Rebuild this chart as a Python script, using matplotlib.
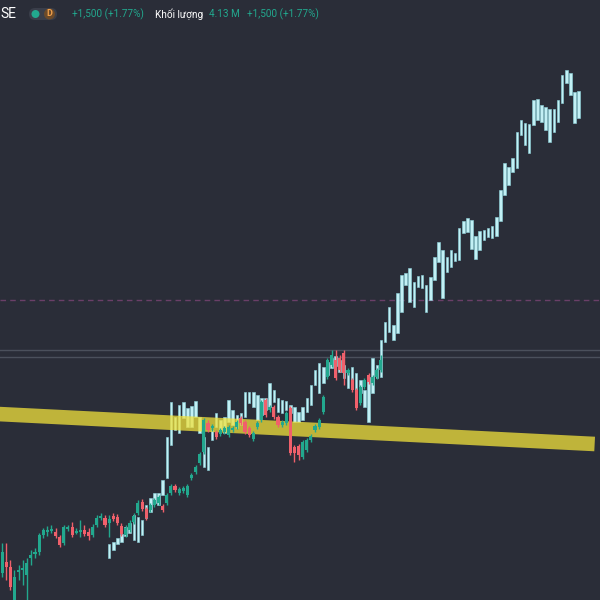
import numpy as np
import matplotlib.pyplot as plt
from matplotlib.patches import FancyBboxPatch, Circle

plt.rcParams['font.family'] = ['Roboto', 'DejaVu Sans']

# main candles (price units)
main_open = [27, 38, 33, 0, 28, 30, 25, 42, 46, 48, 65, 68, 69, 68, 63, 57, 71, 73, 67, 68,
             70, 68, 65, 75, 82, 82, 77, 84, 83, 74, 65, 70, 78, 87, 98, 91, 90, 95, 97, 94,
             97, 107, 114, 107, 109, 105, 122, 128, 137, 148, 177, 172, 168, 166, 168, 165, 170, 173, 182, 178,
             172, 161, 173, 180, 200, 190, 193, 183, 175, 177, 192, 153, 154, 143, 150, 160, 170, 173, 188, 223,
             235, 240, 242, 247, 227, 220, 210, 197, 213, 225, 217, 223, 230]
main_close = [48, 33, 13, 23, 30, 32, 37, 45, 48, 65, 70, 70, 71, 64, 55, 73, 73, 65, 69, 70,
              66, 64, 73, 82, 84, 75, 81, 81, 77, 66, 72, 77, 84, 97, 91, 82, 95, 100, 103, 90,
              105, 114, 110, 111, 112, 114, 125, 133, 146, 180, 170, 174, 163, 170, 172, 173, 172, 178, 177, 168,
              165, 167, 177, 198, 185, 193, 183, 175, 178, 187, 147, 147, 145, 158, 160, 164, 174, 180, 203, 240,
              245, 222, 230, 227, 230, 210, 192, 213, 220, 218, 223, 230, 240]
main_high = [57, 57, 40, 30, 35, 40, 42, 50, 52, 67, 72, 74, 75, 72, 65, 75, 75, 78, 72, 80,
             75, 72, 76, 85, 87, 85, 85, 87, 86, 77, 75, 80, 87, 100, 101, 93, 97, 102, 105, 96,
             107, 116, 116, 113, 114, 116, 127, 135, 148, 182, 180, 176, 170, 172, 174, 175, 174, 180, 184, 180,
             174, 169, 179, 200, 202, 195, 195, 185, 180, 189, 194, 155, 156, 160, 162, 166, 176, 182, 205, 242,
             250, 250, 245, 250, 232, 222, 212, 215, 222, 227, 225, 232, 245]
main_low = [23, 20, 10, -10, 20, 15, 0, 35, 42, 45, 62, 64, 67, 62, 53, 55, 69, 63, 66, 63,
            64, 60, 63, 73, 80, 73, 63, 79, 75, 64, 63, 68, 76, 85, 89, 80, 88, 93, 95, 88,
            95, 105, 108, 105, 107, 103, 120, 126, 135, 146, 168, 169, 161, 164, 166, 163, 168, 171, 175, 166,
            163, 159, 171, 178, 183, 188, 181, 173, 173, 175, 145, 138, 140, 141, 148, 158, 168, 171, 186, 221,
            233, 220, 228, 215, 225, 208, 190, 195, 211, 216, 215, 221, 228]

# projected bars pattern
proj_start = 26
proj_high = [56, 58, 62, 66, 73, 77, 85, 83, 80, 95, 102, 107, 107, 120, 163, 198, 183, 195, 198, 192,
             194, 199, 183, 163, 153, 170, 187, 180, 183, 200, 190, 185, 187, 208, 208, 208, 205, 202, 202, 217,
             210, 202, 200, 199, 195, 193, 188, 193, 202, 215, 230, 237, 233, 238, 242, 244, 240, 235, 228, 233,
             227, 220, 210, 223, 242, 235, 260, 278, 293, 275, 307, 325, 327, 332, 318, 324, 325, 315, 323, 343,
             358, 350, 343, 350, 347, 372, 379, 382, 380, 364, 369, 370, 372, 374, 383, 410, 437, 433, 442, 468,
             480, 477, 476, 500, 501, 495, 493, 491, 491, 500, 525, 530, 527, 508, 509]
proj_low = [42, 50, 56, 58, 64, 67, 60, 58, 65, 82, 88, 97, 95, 105, 122, 155, 170, 167, 182, 173,
            173, 183, 167, 133, 130, 160, 173, 170, 167, 178, 175, 172, 175, 183, 197, 193, 180, 185, 190, 193,
            198, 188, 187, 190, 187, 178, 178, 180, 188, 195, 215, 207, 217, 225, 232, 234, 228, 222, 212, 215,
            210, 207, 193, 178, 207, 222, 223, 258, 268, 260, 267, 288, 315, 298, 293, 313, 312, 288, 300, 320,
            338, 302, 328, 333, 339, 340, 367, 368, 351, 341, 350, 360, 363, 362, 364, 379, 405, 415, 428, 432,
            465, 455, 447, 475, 480, 478, 470, 458, 468, 478, 497, 517, 505, 477, 482]

band_start = 186
band_end = 156
dashed_level = 300
grey_levels = [250, 243]

bg = '#2a2d38'
up_col = '#22a88e'
down_col = '#f0606b'
proj_col = '#c2f0f5'

fig = plt.figure(figsize=(6, 6), dpi=100, facecolor=bg)
ax = fig.add_axes([0, 0, 1, 1], facecolor=bg)

# levels
ax.axhline(dashed_level, color='#6a3f68', lw=1, ls=(0, (4, 3)), zorder=1)
for lv in grey_levels:
    ax.axhline(lv, color='#4b505c', lw=1, zorder=1)

# projected bars
px = proj_start + np.arange(len(proj_high))
ph = np.array(proj_high)
pl = np.array(proj_low)
ax.bar(px, ph - pl, bottom=pl, width=0.62, color=proj_col, edgecolor='#8fd6df',
       linewidth=0.4, zorder=2)

# trend band
ax.plot([-1, 143.9], [band_start, band_end], color='#f2e23c', lw=10.5,
        alpha=0.75, solid_capstyle='butt', zorder=3)

# main candles
mx = np.arange(len(main_open))
o = np.array(main_open)
c = np.array(main_close)
h = np.array(main_high)
l = np.array(main_low)
cols = [up_col if cc >= oo else down_col for oo, cc in zip(o, c)]
ax.vlines(mx, l, h, colors=cols, lw=1, zorder=4)
body = np.maximum(np.abs(c - o), 1.2)
ax.bar(mx, body, bottom=np.minimum(o, c), width=0.75, color=cols, zorder=5)

ax.set_xlim(-0.5, 145.2)
ax.set_ylim(0, 600)
ax.axis('off')

# header
ty = 1 - 14 / 600
fig.text(0.0, ty, 'SE', color='white', fontsize=10, va='center', ha='left')
pill = FancyBboxPatch((29 / 600, ty - 6 / 600), 28 / 600, 12 / 600,
                      boxstyle='round,pad=0,rounding_size=0.01',
                      transform=fig.transFigure, fc='#3a3e4a', ec='none')
fig.patches.append(pill)
fig.patches.append(Circle((35.5 / 600, ty), 4 / 600, transform=fig.transFigure,
                          fc='#22a88e', ec='none'))
fig.patches.append(Circle((49.5 / 600, ty), 5.5 / 600, transform=fig.transFigure,
                          fc='#6b4a2a', ec='none'))
fig.text(49.5 / 600, ty, 'D', color='#f0a04b', fontsize=6.5, ha='center', va='center',
         fontweight='bold')
fig.text(72 / 600, ty, '+1,500 (+1.77%)', color='#22a88e', fontsize=7.2, va='center')
fig.text(155 / 600, ty, 'Khối lượng', color='white', fontsize=7.2, va='center')
fig.text(209 / 600, ty, '4.13 M', color='#22a88e', fontsize=7.2, va='center')
fig.text(247 / 600, ty, '+1,500 (+1.77%)', color='#22a88e', fontsize=7.2, va='center')

fig.savefig('out.png', dpi=100, facecolor=bg)
